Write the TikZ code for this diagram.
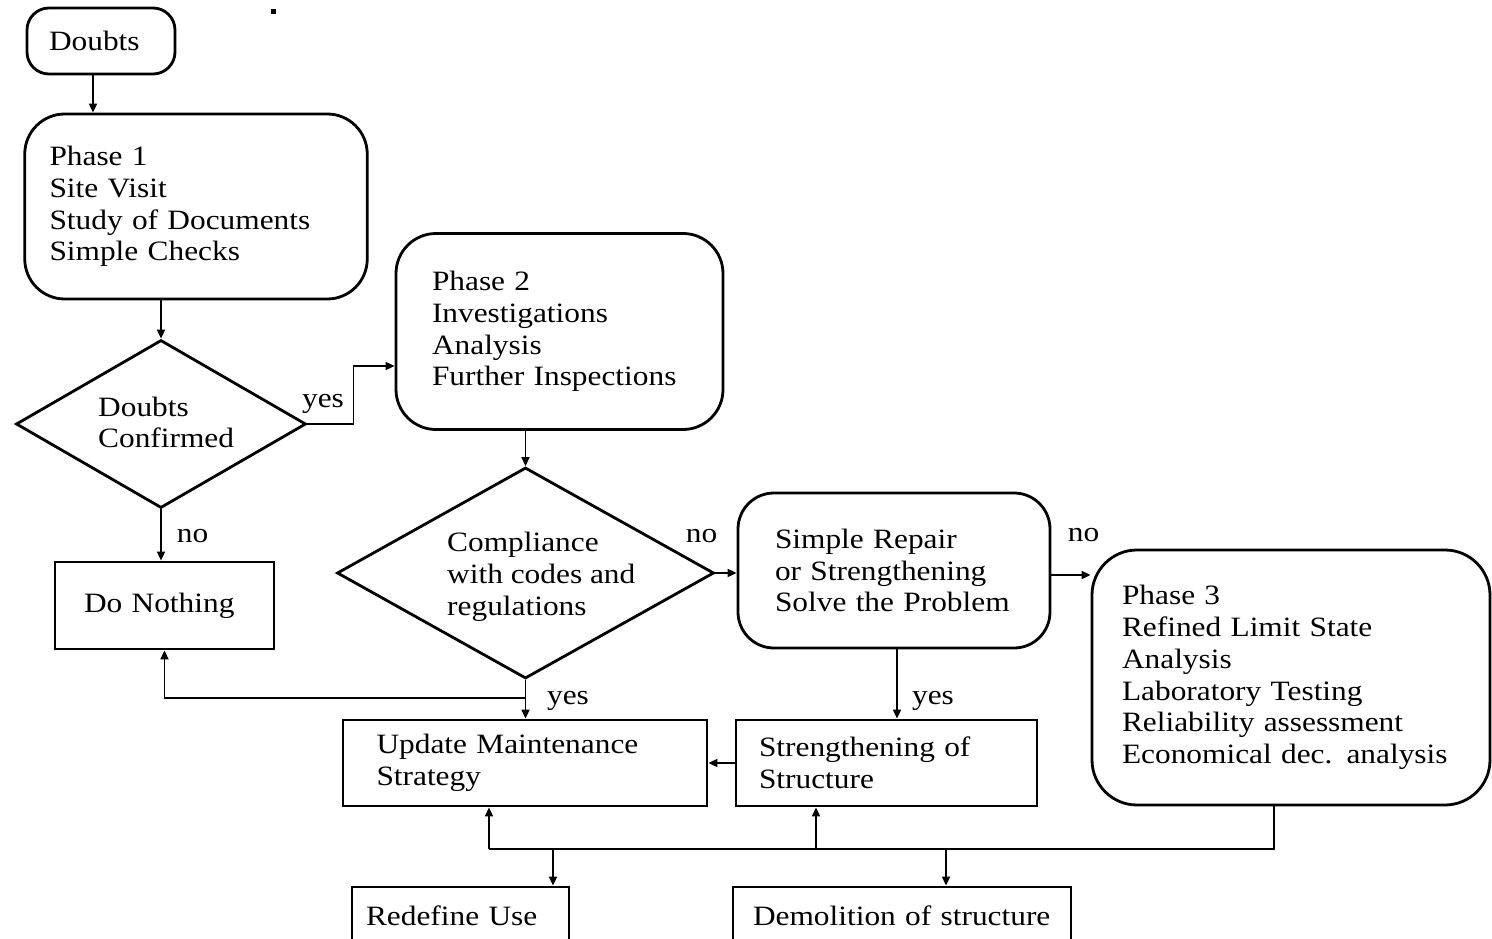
\documentclass[tikz,border=0pt]{standalone}
\usepackage{fontspec}
\setmainfont{Liberation Serif}[FakeStretch=1.12]
\usetikzlibrary{shapes.geometric,arrows.meta}
\begin{document}
\begin{tikzpicture}[x=1pt,y=-1pt,
  font=\fontsize{28}{31.8}\selectfont,
  shp/.style={draw, line width=2.8pt, inner sep=0pt, align=left},
  rbox/.style={shp, rounded corners=#1},
  sbox/.style={shp},
  dia/.style={draw, line width=2.8pt, diamond, inner sep=0pt},
  txt/.style={inner sep=0pt, align=left, anchor=west},
  lbl/.style={inner sep=0pt},
  ln/.style={line width=1.7pt},
  arr/.style={ln, -{Triangle[length=9pt,width=8pt]}}]
\useasboundingbox (0,0) rectangle (1492,939);
\clip (0,0) rectangle (1492,939);

% boxes
\node[rbox=22pt, minimum width=148pt, minimum height=66pt, text width=104pt] (doubts) at (101,41) {Doubts};
\node[rbox=40pt, minimum width=342.5pt, minimum height=185pt, text width=293pt] (phase1) at (196,206.5)
  {Phase 1\\Site Visit\\Study of Documents\\Simple Checks};
\node[rbox=40pt, minimum width=327pt, minimum height=196pt, text width=255pt] (phase2) at (559.5,331.5)
  {Phase 2\\Investigations\\Analysis\\\mbox{Further Inspections}};
\node[rbox=45pt, minimum width=398pt, minimum height=255pt, text width=338pt] (phase3) at (1291,677.5)
  {Phase 3\\Refined Limit State\\Analysis\\Laboratory Testing\\Reliability assessment\\\mbox{Economical dec. analysis}};
\node[rbox=36pt, minimum width=312pt, minimum height=155pt, text width=238pt] (simple) at (894,570.5)
  {\mbox{Simple Repair}\\\mbox{or Strengthening}\\\mbox{Solve the Problem}};
\node[sbox, minimum width=219pt, minimum height=87pt, text width=161pt] (donothing) at (164.5,605.5) {Do Nothing};
\node[sbox, minimum width=364pt, minimum height=86pt, text width=297pt] (update) at (525,763)
  {Update Maintenance\\Strategy};
\node[sbox, minimum width=301pt, minimum height=86pt, text width=255pt] (strength) at (886.5,763)
  {Strengthening of\\Structure};
\node[sbox, minimum width=217pt, minimum height=58pt, text width=189pt] (redefine) at (460.5,916) {\mbox{Redefine Use}};
\node[sbox, minimum width=338pt, minimum height=58pt, text width=298pt] (demol) at (902,916) {\mbox{Demolition of structure}};

% decisions
\node[dia, minimum width=290pt, minimum height=168pt] (d1) at (161,424) {};
\node[dia, minimum width=377pt, minimum height=211pt] (d2) at (525.5,573) {};
\node[txt] (d1t) at (98,422.5) {Doubts\\Confirmed};
\node[txt] (d2t) at (447,577) {Compliance\\with codes and\\regulations};

% labels
\node[lbl] (l1) at (323,403.5) {yes};
\node[lbl] (l2) at (192.5,536) {no};
\node[lbl] (l3) at (701.5,536) {no};
\node[lbl] (l4) at (1083.5,535.5) {no};
\node[lbl] (l5) at (568,701) {yes};
\node[lbl] (l6) at (933,701) {yes};

% connectors
\draw[arr] ([xshift=-8pt]doubts.south) -- ([xshift=-8pt]doubts.south |- phase1.north);
\draw[arr] (d1.north |- phase1.south) -- (d1.north);
\draw[arr] (d1.east) -- ++(46,0) |- ([yshift=-34.5pt]phase2.west);
\draw[arr] (d2.north |- phase2.south) -- (d2.north);
\draw[arr] (d2.east) -- (d2.east -| simple.west);
\draw[arr] ([yshift=-4.5pt]simple.east) -- ([yshift=-4.5pt]simple.east -| phase3.west);
\draw[arr] (d1.south) -- (d1.south |- donothing.north);
\draw[arr] (d2.south) -- (d2.south |- update.north);
\draw[arr] (d2.south) ++(0,18) -| (donothing.south);
\draw[arr] ([xshift=3pt]simple.south) -- ([xshift=3pt]simple.south |- strength.north);
\draw[arr] (strength.west) -- (update.east);

\coordinate (bus) at (489,849);
\draw[ln] ([xshift=-17pt]phase3.south) |- (bus);
\draw[arr] (bus) -- (bus |- update.south);
\draw[arr] ([xshift=-70.5pt]strength.south |- bus) -- ([xshift=-70.5pt]strength.south);
\draw[arr] ([xshift=92.5pt]redefine.north |- bus) -- ([xshift=92.5pt]redefine.north);
\draw[arr] ([xshift=44pt]demol.north |- bus) -- ([xshift=44pt]demol.north);

% stray mark
\fill (271,9.5) rectangle (276,14.5);
\end{tikzpicture}
\end{document}
